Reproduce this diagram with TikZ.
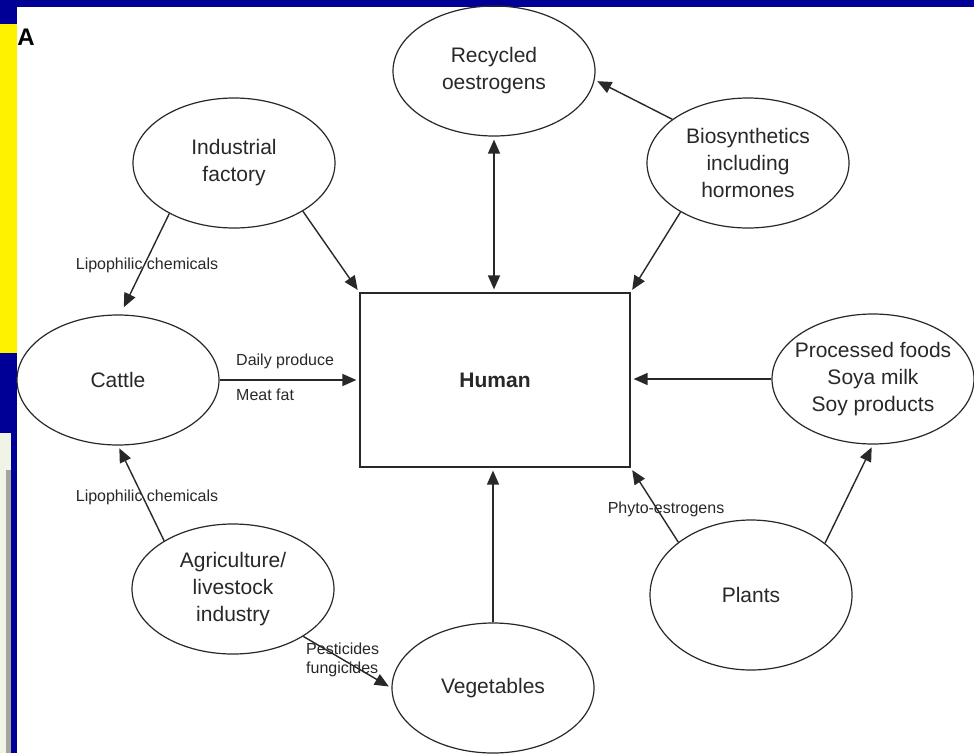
\documentclass[tikz,border=0pt]{standalone}
\usepackage{fontspec}
\setmainfont{Liberation Sans}
\usetikzlibrary{shapes.geometric,arrows.meta}
\definecolor{navy}{RGB}{0,0,150}
\definecolor{cream}{RGB}{240,244,230}
\definecolor{edgegrey}{RGB}{165,165,160}
\definecolor{ink}{RGB}{40,40,40}

\begin{document}
\begin{tikzpicture}[x=1pt,y=-1pt,
  src/.style={ellipse, draw=ink, line width=1.2pt, minimum width=202pt, minimum height=130pt, inner sep=0pt, align=center, text=ink, font=\fontsize{21}{27}\selectfont},
  lbl/.style={inner sep=0pt, text=ink, font=\fontsize{16}{19}\selectfont},
  flow/.style={draw=ink, line width=1.4pt, -{Triangle[length=14pt,width=12pt]}, shorten >=3pt}]
\useasboundingbox (0,0) rectangle (974,753);
% frame of the slide
\fill[navy] (0,0) rectangle (974,753);
\fill[white] (17,7) rectangle (974,753);
\fill[yellow] (0,24) rectangle (17,353);
\fill[cream] (0,433) rectangle (11,753);
\fill[edgegrey] (6,470) rectangle (11,753);
\node[inner sep=0pt, font=\fontsize{24}{24}\selectfont\bfseries] (panelA) at (26,37) {A};

% nodes
\node[src] (recyc) at (494,71) {Recycled\\oestrogens};
\node[src] (indus) at (234,163) {Industrial\\factory};
\node[src] (bio) at (748,163) {Biosynthetics\\including\\hormones};
\node[src] (cattle) at (118,380) {Cattle};
\node[draw=ink, line width=1.2pt, minimum width=270pt, minimum height=174pt, text=ink, font=\fontsize{21}{27}\selectfont\bfseries] (human) at (495,380) {Human};
\node[src, inner xsep=-12pt] (proc) at (873,379) {Processed foods\\Soya milk\\Soy products};
\node[src] (agri) at (233,589) {Agriculture/\\livestock\\industry};
\node[src, minimum height=150pt] (plants) at (751,595) {Plants};
\node[src] (veg) at (493,688) {Vegetables};

% connectors
\draw[flow] (indus.-35) -- (human.north west);
\draw[flow, shorten >=8pt] (indus.218) -- (cattle.88);
\draw[draw=ink, line width=1.4pt, {Triangle[length=14pt,width=12pt]}-{Triangle[length=14pt,width=12pt]}, shorten >=3pt, shorten <=3pt] (recyc.south) -- (recyc.south |- human.north);
\draw[flow] (bio.150) -- (recyc.-5);
\draw[flow] (bio.216) -- (human.north east);
\draw[flow] (cattle.east) -- (cattle.east -| human.west);
\draw[flow] (agri.145) -- (cattle.south);
\draw[flow] (agri.-34) -- (veg.west);
\draw[flow] (veg.north) -- (veg.north |- human.south);
\draw[flow] (plants.144) -- (human.south east);
\draw[flow] (plants.35) -- (proc.south);
\draw[flow] (proc.west) -- (proc.west -| human.east);

% labels
\node[lbl] (lipo1) at (147,265) {Lipophilic chemicals};
\node[lbl] (lipo2) at (147,497) {Lipophilic chemicals};
\node[lbl, anchor=west] (daily) at (236,361) {Daily produce};
\node[lbl, anchor=west] (meat) at (236,395) {Meat fat};
\node[lbl, align=left, anchor=west] (pest) at (306,660) {Pesticides\\fungicides};
\node[lbl] (phyto) at (666,509) {Phyto-estrogens};

\end{tikzpicture}
\end{document}
